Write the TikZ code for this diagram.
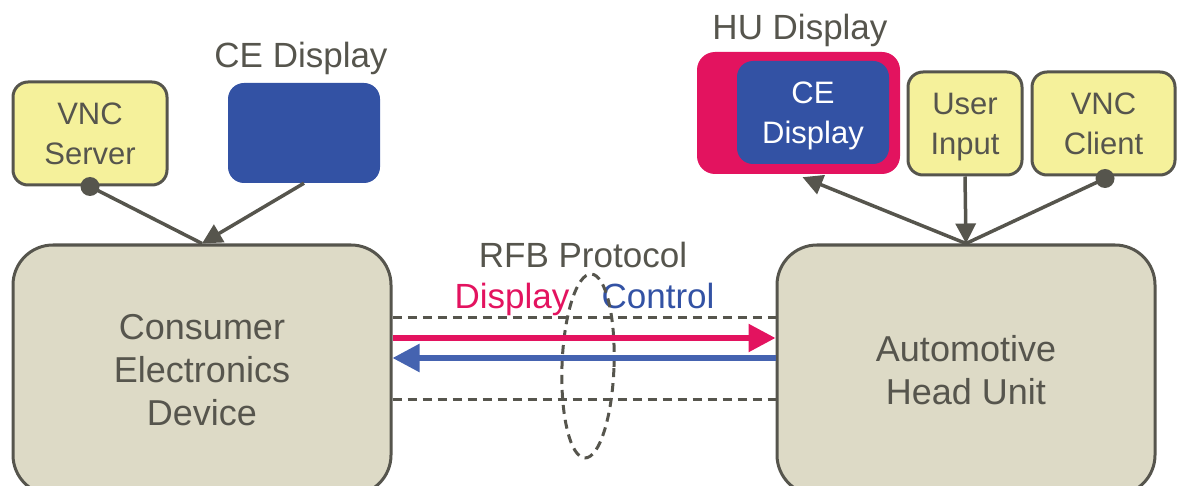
\documentclass[tikz,border=0pt]{standalone}
\usepackage{fontspec}
\setmainfont{Liberation Sans}
\usetikzlibrary{arrows.meta,shapes.geometric}

\definecolor{inkgray}{RGB}{86,85,77}
\definecolor{boxbeige}{RGB}{221,218,198}
\definecolor{noteyellow}{RGB}{245,241,155}
\definecolor{screenblue}{RGB}{51,82,164}
\definecolor{hotpink}{RGB}{227,19,95}
\definecolor{ctrlblue}{RGB}{69,99,176}

\tikzset{
  bigbox/.style={draw=inkgray, line width=3pt, fill=boxbeige, rounded corners=40pt,
    minimum width=378pt, minimum height=250pt, inner sep=0pt, align=center,
    text=inkgray, font=\fontsize{36}{43}\selectfont},
  smallbox/.style={draw=inkgray, line width=3pt, fill=noteyellow, rounded corners=15pt,
    minimum height=103pt, inner sep=0pt, align=center, text depth=0pt,
    text=inkgray, font=\fontsize{31}{40}\selectfont},
  screen/.style={fill=screenblue, rounded corners=16pt, inner sep=0pt, align=center,
    text depth=0pt, text=white, font=\fontsize{31}{40}\selectfont},
  caption/.style={anchor=base, inner sep=0pt, text=inkgray, font=\fontsize{35}{40}\selectfont},
  gline/.style={draw=inkgray, line width=3.5pt},
  gtip/.style={-{Triangle[length=20pt,width=20pt]}},
  dot/.style={circle, fill=inkgray, minimum size=19pt, inner sep=0pt},
  dline/.style={draw=inkgray, line width=3pt, dash pattern=on 9pt off 6pt},
  flow/.style={line width=5.5pt, -{Triangle[length=27pt,width=27pt]}}
}

\begin{document}
\begin{tikzpicture}[x=1pt,y=-1pt]
\useasboundingbox (0,0) rectangle (1182,486);

% main devices
\node[bigbox] (ce) at (202,370) {Consumer\\Electronics\\Device};
\node[bigbox] (hu) at (966,370) {Automotive\\Head Unit};

% consumer device side
\node[smallbox, minimum width=154pt] (vncs) at (90,133.5) {VNC\\Server};
\node[screen, minimum width=152pt, minimum height=100pt] (cedisp) at (304,133) {};
\node[caption] (cedisplabel) at (301,68) {CE Display};

% head unit side
\node[fill=hotpink, rounded corners=18pt, minimum width=203pt, minimum height=122pt,
      inner sep=0pt] (hud) at (798.5,113) {};
\node[screen, minimum width=152pt, minimum height=103pt] (hudin) at (813,112.5) {CE\\Display};
\node[caption] (hudlabel) at (800,40) {HU Display};
\node[smallbox, minimum width=114pt] (uin) at (965,123.5) {User\\Input};
\node[smallbox, minimum width=143pt] (vncc) at (1103.5,123.5) {VNC\\Client};

% connectors on the consumer side
\node[dot] (vncsdot) at (vncs.south) {};
\draw[gline] (vncsdot.center) -- (ce.north);
\draw[gline, gtip] (cedisp.south) -- (ce.north);

% connectors on the head unit side
\node[dot] (vnccdot) at ([xshift=1.5pt,yshift=-2pt]vncc.south) {};
\draw[gline] (vnccdot.center) -- (hu.north);
\draw[gline, gtip] (uin.south) -- (hu.north);
\draw[gline, gtip] (hu.north) -- ([xshift=4pt,yshift=-3pt]hud.south);

% RFB channel
\node[caption] (rfb) at (583,267) {RFB Protocol};
\node[caption, text=hotpink] (displbl) at (512,308) {Display};
\node[caption, text=screenblue] (ctrllbl) at (658,308) {Control};

\draw[dline] ([yshift=53pt]ce.east) -- ([yshift=53pt]hu.west);
\draw[dline] ([yshift=-29pt]ce.east) -- ([yshift=-29pt]hu.west);
\node[ellipse, dline, minimum width=52pt, minimum height=184pt, inner sep=0pt,
      rotate=-2] (bundle) at (588,366) {};

\draw[flow, draw=hotpink, fill=hotpink] ([yshift=32pt]ce.east) -- ([yshift=32pt]hu.west);
\draw[flow, draw=ctrlblue, fill=ctrlblue] ([yshift=12pt]hu.west) -- ([yshift=12pt]ce.east);
\end{tikzpicture}
\end{document}
